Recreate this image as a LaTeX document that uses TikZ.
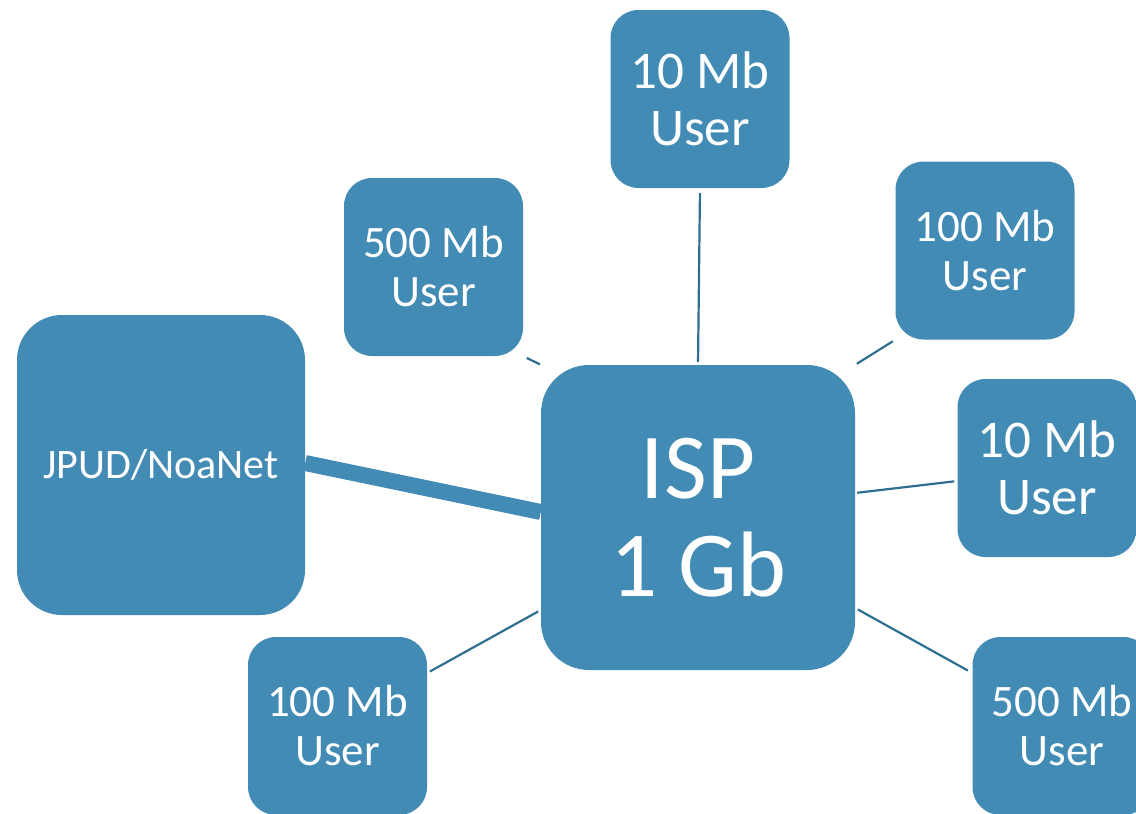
\documentclass[tikz,border=0pt]{standalone}
\usepackage{fontspec}
\setmainfont{Carlito}
\usetikzlibrary{calc}
\definecolor{boxblue}{RGB}{66,139,180}
\definecolor{linkblue}{RGB}{46,111,145}
\tikzset{
  netbox/.style={fill=boxblue, text=white, inner sep=0pt, align=center,
    minimum width=179pt, minimum height=178pt, rounded corners=28pt},
  userbox/.style={netbox, font=\fontsize{45}{49}\selectfont},
  bigbox/.style={netbox, font=\fontsize{53}{57}\selectfont},
  link/.style={draw=linkblue, line width=2.2pt},
  trunk/.style={draw=boxblue, line width=16pt}
}
\begin{document}
\begin{tikzpicture}[x=1pt,y=1pt]
\useasboundingbox (0,0) rectangle (1136,-814);
% central ISP and upstream network
\node[netbox, minimum width=314pt, minimum height=305pt, rounded corners=48pt,
      font=\fontsize{93}{98}\selectfont] (isp) at (698,-517.5) {ISP\\1 Gb};
\node[netbox, minimum width=288pt, minimum height=300pt, rounded corners=45pt,
      font=\fontsize{42}{46}\selectfont] (jpud) at (161,-465) {JPUD/NoaNet};
% subscribers
\node[bigbox]  (u1) at (700,-99)    {10 Mb\\User};
\node[userbox] (u2) at (433.5,-267) {500 Mb\\User};
\node[userbox] (u3) at (985,-250.5) {100 Mb\\User};
\node[bigbox]  (u4) at (1047,-468)  {10 Mb\\User};
\node[userbox] (u5) at (337.5,-726) {100 Mb\\User};
\node[userbox] (u6) at (1062,-726)  {500 Mb\\User};
% links
\draw[trunk] ([yshift=2pt]jpud.east) -- ([yshift=5.5pt]isp.west);
\draw[link, shorten <=3pt, shorten >=5pt] (isp.north) -- (u1.south);
\draw[link, shorten <=4pt, shorten >=1pt] (u2.south east) -- (isp.north west);
\draw[link, shorten <=3pt, shorten >=2pt] (u3.south west) -- (isp.north east);
\draw[link, shorten <=2pt, shorten >=3pt] ([yshift=24.5pt]isp.east) -- ([yshift=-13pt]u4.west);
\draw[link, shorten <=3pt, shorten >=5pt] ([yshift=-90.5pt]isp.east) -- ([yshift=53pt]u6.west);
\draw[link, shorten <=3pt, shorten >=3pt] ([yshift=53pt]u5.east) -- ([yshift=-92.5pt]isp.west);
\end{tikzpicture}
\end{document}
